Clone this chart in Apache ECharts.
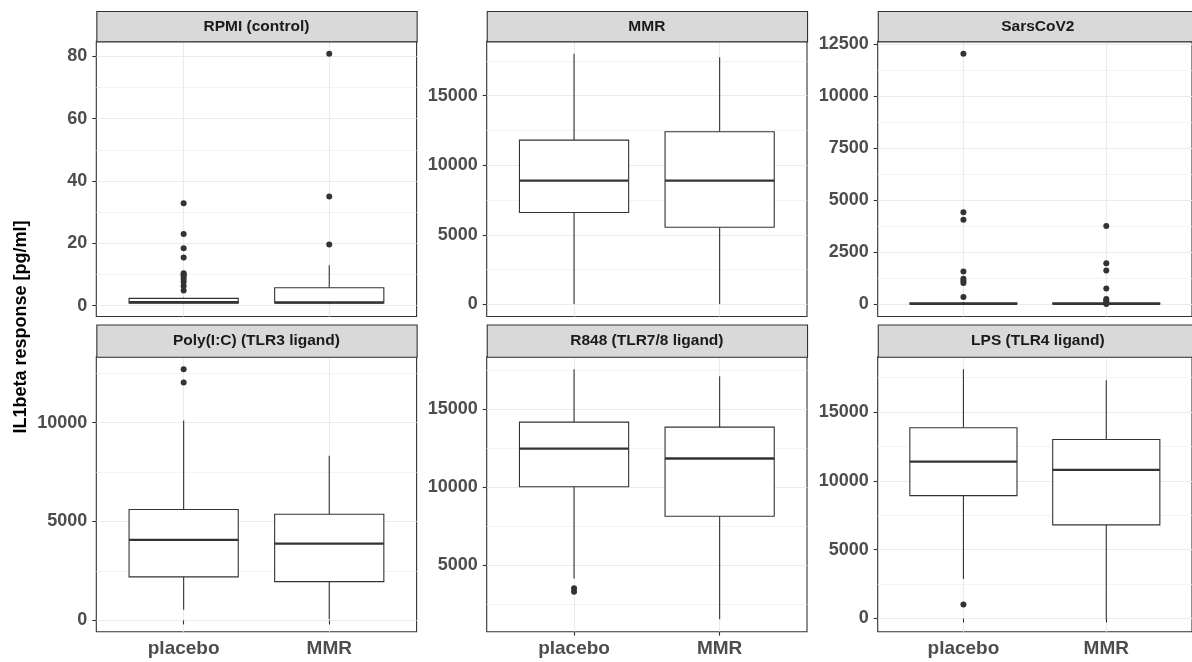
<!DOCTYPE html>
<html><head><meta charset="utf-8">
<script src="https://cdn.jsdelivr.net/npm/echarts@6/dist/echarts.min.js"></script>
<style>html,body{margin:0;padding:0;background:#fff}#c{width:1192px;height:662px}</style>
</head><body><div id="c"></div>
<script>
// ---------- data ----------
const groups = ['placebo', 'MMR'];
const panelTitles = ['RPMI (control)', 'MMR', 'SarsCoV2', 'Poly(I:C) (TLR3 ligand)', 'R848 (TLR7/8 ligand)', 'LPS (TLR4 ligand)'];
const yTitle = 'IL1beta response [pg/ml]';

// box stats: [lower whisker, Q1, median, Q3, upper whisker]
const rpmiPlacebo = [0.5, 0.75, 1.1, 2.3, 2.6];
const rpmiMMR = [0.5, 0.8, 1.0, 5.7, 12.9];
const rpmiPlaceboOut = [32.8, 23.0, 18.4, 15.4, 10.4, 9.9, 9.5, 8.6, 7.6, 6.3, 4.8];
const rpmiMMROut = [80.8, 35.0, 19.6];

const mmrPlacebo = [30, 6600, 8890, 11800, 18000];
const mmrMMR = [30, 5540, 8890, 12400, 17750];
const mmrPlaceboOut = [];
const mmrMMROut = [];

const sarsPlacebo = [0, 0, 15, 45, 100];
const sarsMMR = [0, 0, 10, 40, 80];
const sarsPlaceboOut = [12020, 4410, 4050, 1560, 1210, 1120, 1010, 340];
const sarsMMROut = [3750, 1960, 1610, 740, 240, 160, 80, 0];

const polyPlacebo = [540, 2200, 4070, 5610, 10100];
const polyMMR = [60, 1960, 3880, 5370, 8330];
const polyPlaceboOut = [12700, 12030];
const polyMMROut = [];

const r848Placebo = [4150, 10030, 12470, 14170, 17560];
const r848MMR = [1540, 8140, 11840, 13850, 17110];
const r848PlaceboOut = [3530, 3300];
const r848MMROut = [];

const lpsPlacebo = [2860, 8920, 11390, 13850, 18100];
const lpsMMR = [-50, 6800, 10790, 13000, 17300];
const lpsPlaceboOut = [1020];
const lpsMMROut = [];

// y tick labels per panel
const rpmiTicks = [0, 20, 40, 60, 80];
const mmrTicks = [0, 5000, 10000, 15000];
const sarsTicks = [0, 2500, 5000, 7500, 10000, 12500];
const polyTicks = [0, 5000, 10000];
const r848Ticks = [5000, 10000, 15000];
const lpsTicks = [0, 5000, 10000, 15000];

const panels = [
  {box: [rpmiPlacebo, rpmiMMR], out: [rpmiPlaceboOut, rpmiMMROut], ticks: rpmiTicks},
  {box: [mmrPlacebo, mmrMMR], out: [mmrPlaceboOut, mmrMMROut], ticks: mmrTicks},
  {box: [sarsPlacebo, sarsMMR], out: [sarsPlaceboOut, sarsMMROut], ticks: sarsTicks},
  {box: [polyPlacebo, polyMMR], out: [polyPlaceboOut, polyMMROut], ticks: polyTicks},
  {box: [r848Placebo, r848MMR], out: [r848PlaceboOut, r848MMROut], ticks: r848Ticks},
  {box: [lpsPlacebo, lpsMMR], out: [lpsPlaceboOut, lpsMMROut], ticks: lpsTicks}
];

// ---------- layout ----------
const colLeft = [96.3, 486.7, 877.7];
const panelW = 320.3;
const rowTop = [41.3, 356.7];
const panelH = [275.2, 275.0];
const stripTop = [11, 324.5];
const FONT = '"Liberation Sans", Arial, sans-serif';
const DARK = '#333333';

function renderBox(params, api) {
  const x = api.value(0);
  const lo = api.coord([x, api.value(1)]);
  const q1 = api.coord([x, api.value(2)]);
  const md = api.coord([x, api.value(3)]);
  const q3 = api.coord([x, api.value(4)]);
  const hi = api.coord([x, api.value(5)]);
  const w = api.size([0.75, 0])[0];
  const cx = lo[0];
  const ls = {stroke: DARK, lineWidth: 1.1, fill: null};
  return {type: 'group', children: [
    {type: 'line', shape: {x1: cx, y1: hi[1], x2: cx, y2: q3[1]}, style: ls},
    {type: 'line', shape: {x1: cx, y1: q1[1], x2: cx, y2: lo[1]}, style: ls},
    {type: 'rect', shape: {x: cx - w / 2, y: q3[1], width: w, height: q1[1] - q3[1]}, style: {fill: '#ffffff', stroke: DARK, lineWidth: 1.1}},
    {type: 'line', shape: {x1: cx - w / 2, y1: md[1], x2: cx + w / 2, y2: md[1]}, style: {stroke: DARK, lineWidth: 2.4}}
  ]};
}

const grids = [], xAxes = [], yAxes = [], series = [], graphics = [];
panels.forEach((p, i) => {
  const r = Math.floor(i / 3), c = i % 3;
  grids.push({left: colLeft[c], top: rowTop[r], width: panelW, height: panelH[r],
    show: true, borderColor: DARK, borderWidth: 1.1, backgroundColor: '#ffffff', containLabel: false});
  // data range with 5% expansion
  let all = [];
  p.box.forEach(b => all = all.concat(b));
  p.out.forEach(o => all = all.concat(o));
  const dmin = Math.min(...all), dmax = Math.max(...all);
  const span = dmax - dmin;
  const ymin = dmin - 0.05 * span, ymax = dmax + 0.05 * span;
  const step = p.ticks[1] - p.ticks[0];
  const bottom = r === 1;
  xAxes.push({
    type: 'value', gridIndex: i, min: 0.4, max: 2.6,
    axisLine: {show: false},
    axisTick: {show: bottom, customValues: [1, 2], length: 4, lineStyle: {color: DARK, width: 1.1}},
    axisLabel: {show: bottom, customValues: [1, 2], margin: 8,
      formatter: v => groups[Math.round(v) - 1],
      color: '#4D4D4D', fontFamily: FONT, fontWeight: 'bold', fontSize: 19},
    splitLine: {show: true, lineStyle: {color: '#EBEBEB', width: 1.1}},
    minorSplitLine: {show: false}
  });
  yAxes.push({
    type: 'value', gridIndex: i, min: ymin, max: ymax,
    minInterval: step, maxInterval: step,
    axisLine: {show: false},
    axisTick: {show: true, customValues: p.ticks, length: 4, lineStyle: {color: DARK, width: 1.1}},
    axisLabel: {show: true, customValues: p.ticks, margin: 9, formatter: v => String(v),
      color: '#4D4D4D', fontFamily: FONT, fontWeight: 'bold', fontSize: 18},
    splitLine: {show: true, lineStyle: {color: '#EBEBEB', width: 1.1}},
    minorTick: {show: false, splitNumber: 2},
    minorSplitLine: {show: true, lineStyle: {color: '#F1F1F1', width: 0.8}}
  });
  series.push({
    type: 'custom', xAxisIndex: i, yAxisIndex: i, renderItem: renderBox, z: 2,
    encode: {x: 0, y: [1, 2, 3, 4, 5]},
    data: p.box.map((b, g) => [g + 1].concat(b)), silent: true
  });
  const pts = [];
  p.out.forEach((o, g) => o.forEach(v => pts.push([g + 1, v])));
  series.push({
    type: 'scatter', xAxisIndex: i, yAxisIndex: i, z: 3, symbol: 'circle', symbolSize: 6,
    itemStyle: {color: DARK, opacity: 1}, data: pts, silent: true
  });
  // strip
  const sh = rowTop[r] - stripTop[r];
  graphics.push({type: 'rect', left: colLeft[c], top: stripTop[r], z: 10,
    shape: {width: panelW, height: sh}, style: {fill: '#D9D9D9', stroke: DARK, lineWidth: 1.1}});
  graphics.push({type: 'text', x: colLeft[c] + panelW / 2, y: stripTop[r] + sh / 2 + 0.5, z: 11,
    style: {text: panelTitles[i], font: 'bold 15.5px ' + FONT, fill: '#1A1A1A',
      align: 'center', verticalAlign: 'middle', textAlign: 'center', textVerticalAlign: 'middle'}});
});
graphics.push({type: 'text', x: 21.5, y: 327, rotation: Math.PI / 2, z: 11,
  style: {text: yTitle, font: 'bold 18px ' + FONT, fill: '#000000',
    align: 'center', verticalAlign: 'middle', textAlign: 'center', textVerticalAlign: 'middle'}});

const chart = echarts.init(document.getElementById('c'), null, {renderer: 'canvas'});
chart.setOption({
  animation: false,
  backgroundColor: '#ffffff',
  grid: grids, xAxis: xAxes, yAxis: yAxes, series: series,
  graphic: {elements: graphics}
});
</script></body></html>
